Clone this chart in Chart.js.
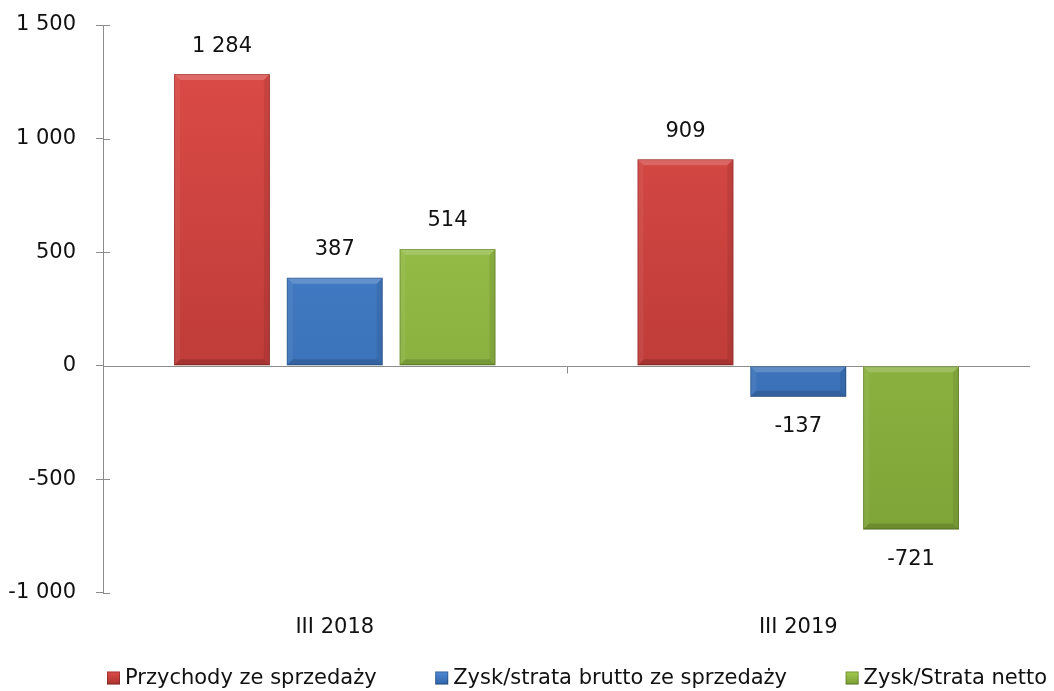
<!DOCTYPE html>
<html>
<head>
<meta charset="utf-8">
<script src="https://cdn.jsdelivr.net/npm/chart.js@4.4.0/dist/chart.umd.min.js"></script>
<style>
  html, body { margin: 0; padding: 0; background: #fff; }
  #wrap { width: 1054px; height: 691px; }
</style>
</head>
<body>
<div id="wrap"><canvas id="chart"></canvas></div>
<script>
const categories = ["III 2018", "III 2019"];
const seriesNames = ["Przychody ze sprzedaży", "Zysk/strata brutto ze sprzedaży", "Zysk/Strata netto"];
const revenue = [1284, 909];
const grossProfit = [387, -137];
const netProfit = [514, -721];
const yTicks = [-1000, -500, 0, 500, 1000, 1500];

const palette = [
  { light: "#de4c48", mid: "#d2413e", dark: "#ab322f" },
  { light: "#4f8ad6", mid: "#3f7ccb", dark: "#2f64a8" },
  { light: "#a3cc4f", mid: "#98c145", dark: "#7a9f35" }
];

const FONT = "'DejaVu Sans', Verdana, sans-serif";
const FSIZE = 21;

function fmt(v) {
  const s = Math.abs(v).toString().replace(/\B(?=(\d{3})+(?!\d))/g, " ");
  return (v < 0 ? "-" : "") + s;
}

function barFill(ctx, i) {
  const chart = ctx.chart;
  const area = chart.chartArea;
  if (!area) return palette[i].mid;
  const g = chart.ctx.createLinearGradient(0, area.top, 0, area.bottom);
  g.addColorStop(0, palette[i].light);
  g.addColorStop(1, palette[i].dark);
  return g;
}

// bevel look for bars
const bevelPlugin = {
  id: "bevel",
  afterDatasetsDraw(chart) {
    const c = chart.ctx;
    chart.data.datasets.forEach((ds, di) => {
      chart.getDatasetMeta(di).data.forEach(bar => {
        const left = bar.x - bar.width / 2, right = bar.x + bar.width / 2;
        const top = Math.min(bar.y, bar.base), bottom = Math.max(bar.y, bar.base);
        const b = Math.min(6, (bottom - top) / 3);
        c.save();
        c.fillStyle = "rgba(255,255,255,0.18)";
        c.beginPath();
        c.moveTo(left, top); c.lineTo(right, top); c.lineTo(right - b, top + b); c.lineTo(left + b, top + b);
        c.closePath(); c.fill();
        c.fillStyle = "rgba(255,255,255,0.06)";
        c.beginPath();
        c.moveTo(left, top); c.lineTo(left + b, top + b); c.lineTo(left + b, bottom - b); c.lineTo(left, bottom);
        c.closePath(); c.fill();
        c.fillStyle = "rgba(0,0,0,0.08)";
        c.beginPath();
        c.moveTo(right, top); c.lineTo(right, bottom); c.lineTo(right - b, bottom - b); c.lineTo(right - b, top + b);
        c.closePath(); c.fill();
        c.fillStyle = "rgba(0,0,0,0.14)";
        c.beginPath();
        c.moveTo(left, bottom); c.lineTo(right, bottom); c.lineTo(right - b, bottom - b); c.lineTo(left + b, bottom - b);
        c.closePath(); c.fill();
        c.strokeStyle = "rgba(0,0,0,0.2)";
        c.lineWidth = 1;
        c.strokeRect(left + 0.5, top + 0.5, bar.width - 1, bottom - top - 1);
        c.restore();
      });
    });
  }
};

// zero line, tick marks, value labels, legend
const extrasPlugin = {
  id: "extras",
  beforeDatasetsDraw(chart) {
    const c = chart.ctx, ys = chart.scales.y, x = chart.scales.x;
    const area = chart.chartArea;
    const y0 = Math.round(ys.getPixelForValue(0)) + 0.5;
    c.save();
    c.strokeStyle = "#8c8c8c";
    c.lineWidth = 1;
    c.beginPath();
    c.moveTo(area.left, y0);
    c.lineTo(area.right, y0);
    for (let i = 1; i < categories.length; i++) {
      const xb = Math.round((x.getPixelForValue(i - 1) + x.getPixelForValue(i)) / 2) + 0.5;
      c.moveTo(xb, y0); c.lineTo(xb, y0 + 7);
    }
    // inner half of the y tick marks
    yTicks.forEach(v => {
      const yy = Math.round(ys.getPixelForValue(v)) + 0.5;
      c.moveTo(area.left, yy); c.lineTo(area.left + 7, yy);
    });
    c.stroke();
    c.restore();
  },
  afterDraw(chart) {
    const c = chart.ctx;
    c.save();
    c.font = FSIZE + "px " + FONT;
    c.fillStyle = "#111";
    c.textAlign = "center";
    c.textBaseline = "middle";
    chart.data.datasets.forEach((ds, di) => {
      chart.getDatasetMeta(di).data.forEach((bar, i) => {
        const v = ds.data[i];
        const ly = v >= 0 ? bar.y - 28 : bar.y + 30;
        c.fillText(fmt(v), bar.x, ly);
      });
    });

    // legend
    const box = 13, gapText = 5;
    const widths = seriesNames.map(n => c.measureText(n).width);
    const span = chart.width - 11 - chart.chartArea.left;
    const used = widths.reduce((a, w) => a + box + gapText + w, 0);
    const gapItem = (span - used) / (seriesNames.length - 1);
    let lx = chart.chartArea.left + 4;
    const ly = 678;
    c.textAlign = "left";
    seriesNames.forEach((n, i) => {
      const g = c.createLinearGradient(0, ly - box / 2, 0, ly + box / 2);
      g.addColorStop(0, palette[i].light);
      g.addColorStop(1, palette[i].dark);
      c.fillStyle = g;
      c.fillRect(lx, ly - box / 2, box, box);
      c.strokeStyle = "rgba(0,0,0,0.25)";
      c.strokeRect(lx + 0.5, ly - box / 2 + 0.5, box - 1, box - 1);
      c.fillStyle = "#111";
      c.fillText(n, lx + box + gapText, ly + 1);
      lx += box + gapText + widths[i] + gapItem;
    });
    c.restore();
  }
};

const seriesData = [revenue, grossProfit, netProfit];

new Chart(document.getElementById("chart"), {
  type: "bar",
  data: {
    labels: categories,
    datasets: seriesNames.map((name, i) => ({
      label: name,
      data: seriesData[i],
      backgroundColor: ctx => barFill(ctx, i),
      borderWidth: 0,
      categoryPercentage: 0.73,
      barPercentage: 0.85
    }))
  },
  options: {
    responsive: true,
    maintainAspectRatio: false,
    animation: false,
    layout: { padding: { left: 4, right: 24, top: 0, bottom: 29 } },
    plugins: {
      tooltip: { enabled: false },
      legend: { display: false }
    },
    scales: {
      x: {
        grid: { display: false, drawTicks: false },
        border: { display: false },
        ticks: { font: { family: FONT, size: FSIZE }, color: "#111", padding: 22 }
      },
      y: {
        min: -1000,
        max: 1500,
        afterBuildTicks: scale => { scale.ticks = yTicks.map(v => ({ value: v })); },
        afterFit: scale => { scale.width = 99; scale.paddingTop = 25; scale.paddingBottom = 0; },
        grid: { drawOnChartArea: false, drawTicks: true, tickLength: 7, color: "#8c8c8c" },
        border: { display: true, color: "#8c8c8c" },
        ticks: {
          font: { family: FONT, size: FSIZE },
          color: "#111",
          padding: 20,
          callback: v => fmt(v)
        }
      }
    }
  },
  plugins: [extrasPlugin, bevelPlugin]
});
</script>
</body>
</html>
